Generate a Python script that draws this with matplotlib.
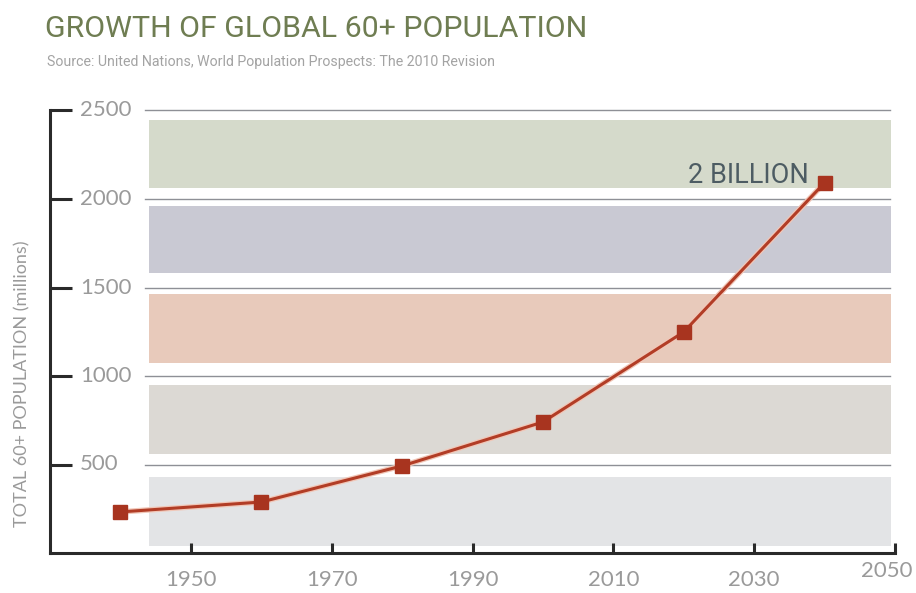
import matplotlib
matplotlib.use("Agg")
import matplotlib.pyplot as plt
import matplotlib.patheffects as pe
from matplotlib.transforms import blended_transform_factory, ScaledTranslation

# Data: population aged 60+ (millions)
years = [1940, 1960, 1980, 2000, 2020, 2040]
population = [232, 288, 492, 740, 1249, 2092]

x_ticks = [1950, 1970, 1990, 2010, 2030, 2050]
y_ticks = [500, 1000, 1500, 2000, 2500]

# Horizontal background bands (lower, upper) in millions
bands = [(40, 430), (558, 950), (1073, 1463), (1582, 1960), (2062, 2446)]
band_colors = ["#e3e4e6", "#dcd9d4", "#e8cabb", "#c9c9d3", "#d5dacb"]

title = "GROWTH OF GLOBAL 60+ POPULATION"
source = "Source: United Nations, World Population Prospects: The 2010 Revision"
ylabel = "TOTAL 60+ POPULATION (millions)"
callout = "2 BILLION"

fig = plt.figure(figsize=(9.16, 5.93), dpi=100)
ax = fig.add_axes([50 / 916, 1 - 553 / 593, (895 - 50) / 916, (553 - 110.5) / 593])
ax.set_xlim(1930, 2050)
ax.set_ylim(0, 2500)

narrow = ["Roboto", "DejaVu Sans"]
light = ["Lato", "DejaVu Sans"]
grey_txt = "#9a9a9a"

for (lo, hi), c in zip(bands, band_colors):
    ax.fill_between([1944, 2049.5], lo, hi, color=c, lw=0, zorder=1)

for yv in y_ticks:
    ax.plot([1943.5, 2049.3], [yv, yv], color="#8e9096", lw=1.0, zorder=1.5,
            clip_on=False)

ax.plot(years, population, color="#b23d26", lw=2.2, zorder=3,
        path_effects=[pe.Stroke(linewidth=4.0, foreground="#f1c7b8"), pe.Normal()])
ax.plot(years, population, ls="none", marker="s", ms=9.5, color="#a8341f",
        mec="#a8341f", zorder=4, clip_on=False)

ax.text(2037.8, 2092, callout, ha="right", va="baseline", fontsize=19.5,
        color="#4d5c63", family=narrow, zorder=5)

# Axes styling
for s in ["top", "right"]:
    ax.spines[s].set_visible(False)
for s in ["left", "bottom"]:
    ax.spines[s].set_color("#2a2a2a")
    ax.spines[s].set_linewidth(2.2)
    ax.spines[s].set_capstyle("projecting")

ax.set_yticks(y_ticks)
ax.set_yticklabels([])
ax.tick_params(axis="y", direction="in", length=16, width=2.2, color="#2a2a2a")
trans = blended_transform_factory(ax.transAxes, ax.transData)
for yv in y_ticks:
    ax.text(30 / 845, yv, f"{yv}", transform=trans, ha="left", va="center",
            fontsize=16, color=grey_txt, family=light, clip_on=False)

ax.set_xticks(x_ticks)
ax.set_xticklabels([str(x) for x in x_ticks], fontsize=16, color=grey_txt,
                   family=light)
ax.tick_params(axis="x", direction="in", length=7, width=2.2, color="#2a2a2a",
               pad=12.5)
# the last year label sits a little higher and inward, at the axis corner
last = ax.get_xticklabels()[-1]
last.set_transform(last.get_transform()
                   + ScaledTranslation(-8 / 100, 9 / 100, fig.dpi_scale_trans))

fig.text(22 / 916, 1 - 384 / 593, ylabel, rotation=90, ha="center", va="center",
         fontsize=13, color=grey_txt, family=light)

fig.text(45 / 916, 1 - 37 / 593, title, ha="left", va="baseline", fontsize=21.8,
         color="#6f7d52", family=narrow)
fig.text(47 / 916, 1 - 66 / 593, source, ha="left", va="baseline", fontsize=10.2,
         color="#a3a3a3", family=narrow)

fig.savefig("out.png", dpi=100, facecolor="white")
